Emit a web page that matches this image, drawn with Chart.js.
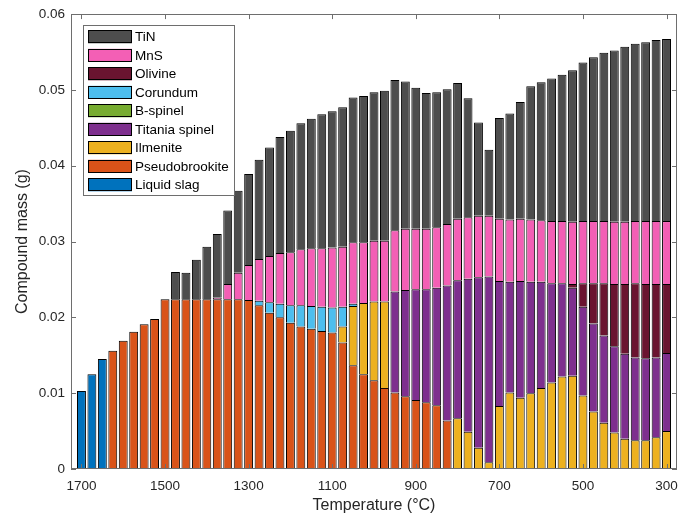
<!DOCTYPE html>
<html lang="en">
<head>
    <meta charset="UTF-8">
    <title>Compound mass vs temperature</title>
    <script src="https://cdn.jsdelivr.net/npm/chart.js"></script>
    <style>
        body { margin: 0; background: #fff; }
        #wrap { width: 691px; height: 515px; }
    </style>
</head>
<body>
    <div id="wrap"><canvas id="chart" width="691" height="515"></canvas></div>
    <script>
        // Temperatures (°C), one bar each, 25 °C apart
        const temps = [1700,1675,1650,1625,1600,1575,1550,1525,1500,
            1475,1450,1425,1400,1375,1350,1325,1300,
            1275,1250,1225,1200,1175,1150,1125,1100,
            1075,1050,1025,1000,975,950,925,900,
            875,850,825,800,775,750,725,700,
            675,650,625,600,575,550,525,500,
            475,450,425,400,375,350,325,300];
        const tickTemps = [1700, 1500, 1300, 1100, 900, 700, 500, 300];

        // Compound mass (g) of each phase
        const liquidSlag = [0.0103,0.0125,0.0145,0,0,0,0,0,0,
            0,0,0,0,0,0,0,0,
            0,0,0,0,0,0,0,0,
            0,0,0,0,0,0,0,0,
            0,0,0,0,0,0,0,0,
            0,0,0,0,0,0,0,0,
            0,0,0,0,0,0,0,0];
        const pseudobrookite = [0,0,0,0.0156,0.0169,0.0181,0.0191,0.0198,0.0224,
            0.0224,0.0224,0.0224,0.0224,0.0224,0.0224,0.0224,0.0223,
            0.0216,0.0206,0.0200,0.0193,0.0188,0.0185,0.0182,0.0180,
            0.0167,0.0137,0.0125,0.0117,0.0107,0.0101,0.0096,0.0091,
            0.0088,0.0084,0.0064,0,0,0,0,0,
            0,0,0,0,0,0,0,0,
            0,0,0,0,0,0,0,0];
        const ilmenite = [0,0,0,0,0,0,0,0,0,
            0,0,0,0,0,0,0,0,
            0,0,0,0,0,0,0,0,
            0.0021,0.0078,0.0094,0.0104,0.0114,0,0,0,
            0,0,0,0.0067,0.0049,0.0028,0.0009,0.0083,
            0.0101,0.0094,0.0100,0.0107,0.0114,0.0122,0.0123,0.0097,
            0.0076,0.0061,0.0048,0.0040,0.0038,0.0038,0.0042,0.0050];
        const titaniaSpinel = [0,0,0,0,0,0,0,0,0,
            0,0,0,0,0,0,0,0,
            0,0,0,0,0,0,0,0,
            0,0,0,0,0,0.0133,0.0140,0.0146,
            0.0149,0.0155,0.0178,0.0182,0.0202,0.0225,0.0245,0.0165,
            0.0146,0.0154,0.0147,0.0140,0.0131,0.0123,0.0116,0.0117,
            0.0116,0.0115,0.0114,0.0112,0.0109,0.0108,0.0105,0.0103];
        const bSpinel = [0,0,0,0,0,0,0,0,0,
            0,0,0,0,0,0,0,0,
            0,0,0,0,0,0,0,0,
            0,0,0,0,0,0,0,0,
            0,0,0,0,0,0,0,0,
            0,0,0,0,0,0,0,0,
            0,0,0,0,0,0,0,0];
        const corundum = [0,0,0,0,0,0,0,0,0,
            0,0,0,0,0,0,0,0,
            0.0006,0.0014,0.0018,0.0023,0.0028,0.0030,0.0032,0.0033,
            0.0026,0.0003,0,0,0,0,0,0,
            0,0,0,0,0,0,0,0,
            0,0,0,0,0,0,0,0,
            0,0,0,0,0,0,0,0];
        const olivine = [0,0,0,0,0,0,0,0,0,
            0,0,0,0,0,0,0,0,
            0,0,0,0,0,0,0,0,
            0,0,0,0,0,0,0,0,
            0,0,0,0,0,0,0,0,
            0,0,0,0,0,0,0.0005,0.0031,
            0.0053,0.0069,0.0082,0.0092,0.0098,0.0098,0.0097,0.0091];
        const mnS = [0,0,0,0,0,0,0,0,0,
            0,0,0,0,0.0002,0.0020,0.0035,0.0046,
            0.0055,0.0061,0.0067,0.0070,0.0074,0.0076,0.0077,0.0079,
            0.0079,0.0081,0.0080,0.0080,0.0080,0.0081,0.0081,0.0080,
            0.0080,0.0080,0.0081,0.0081,0.0081,0.0081,0.0080,0.0082,
            0.0082,0.0082,0.0082,0.0081,0.0082,0.0082,0.0082,0.0082,
            0.0082,0.0082,0.0082,0.0082,0.0082,0.0083,0.0083,0.0083];
        const tiN = [0,0,0,0,0,0,0,0,0,
            0.0036,0.0035,0.0052,0.0069,0.0084,0.0097,0.0108,0.0120,
            0.0131,0.0143,0.0153,0.0160,0.0166,0.0171,0.0177,0.0180,
            0.0184,0.0191,0.0193,0.0196,0.0198,0.0198,0.0194,0.0186,
            0.0179,0.0178,0.0178,0.0179,0.0157,0.0123,0.0087,0.0133,
            0.0140,0.0154,0.0176,0.0182,0.0188,0.0193,0.0200,0.0209,
            0.0216,0.0222,0.0226,0.0231,0.0234,0.0236,0.0239,0.0240];

        const FONT = "'Liberation Sans', Arial, Helvetica, sans-serif";
        const AXIS_GREY = '#6e6e6e';
        const TEXT = '#262626';

        function series(label, data, color) {
            return {
                label: label,
                data: data,
                backgroundColor: color,
                borderColor: '#000',
                borderWidth: 1,
                categoryPercentage: 1,
                barPercentage: 0.85
            };
        }

        // Axes box with inward ticks on all four sides, plus the boxed legend
        const matlabAxes = {
            id: 'matlabAxes',
            afterDraw(chart) {
                const { ctx, chartArea: a, scales: { x, y } } = chart;
                ctx.save();
                ctx.strokeStyle = AXIS_GREY;
                ctx.lineWidth = 1;
                ctx.strokeRect(Math.round(a.left) + 0.5, Math.round(a.top) + 0.5,
                    Math.round(a.right - a.left) - 1, Math.round(a.bottom - a.top) - 1);
                ctx.beginPath();
                x.ticks.forEach(t => {
                    const px = Math.round(x.getPixelForValue(t.value)) + 0.5;
                    ctx.moveTo(px, a.bottom); ctx.lineTo(px, a.bottom - 5);
                    ctx.moveTo(px, a.top); ctx.lineTo(px, a.top + 5);
                });
                y.ticks.forEach(t => {
                    const py = Math.round(y.getPixelForValue(t.value)) + 0.5;
                    ctx.moveTo(a.left, py); ctx.lineTo(a.left + 5, py);
                    ctx.moveTo(a.right, py); ctx.lineTo(a.right - 5, py);
                });
                ctx.stroke();

                // legend, top-left inside the axes, last series first
                const lx = a.left + 12, ly = a.top + 11, lw = 151, lh = 170;
                ctx.fillStyle = '#fff';
                ctx.fillRect(lx, ly, lw, lh);
                ctx.strokeStyle = AXIS_GREY;
                ctx.strokeRect(Math.round(lx) + 0.5, Math.round(ly) + 0.5, lw, lh);
                ctx.font = '13.5px ' + FONT;
                ctx.textBaseline = 'middle';
                ctx.textAlign = 'left';
                const sets = chart.data.datasets.slice().reverse();
                sets.forEach((ds, i) => {
                    const cy = ly + 11.7 + i * 18.5;
                    ctx.fillStyle = ds.backgroundColor;
                    ctx.fillRect(lx + 5, cy - 6.5, 44, 13);
                    ctx.strokeStyle = '#000';
                    ctx.strokeRect(Math.round(lx + 5) + 0.5, Math.round(cy - 6.5) + 0.5, 43, 12);
                    ctx.fillStyle = '#000';
                    ctx.fillText(ds.label, lx + 52, cy + 0.5);
                });
                ctx.restore();
            }
        };

        new Chart(document.getElementById('chart'), {
            type: 'bar',
            data: {
                labels: temps,
                datasets: [
                    series('Liquid slag', liquidSlag, '#0072bd'),
                    series('Pseudobrookite', pseudobrookite, '#d95319'),
                    series('Ilmenite', ilmenite, '#edb120'),
                    series('Titania spinel', titaniaSpinel, '#7e2f8e'),
                    series('B-spinel', bSpinel, '#77ac30'),
                    series('Corundum', corundum, '#4dbeee'),
                    series('Olivine', olivine, '#6a1430'),
                    series('MnS', mnS, '#f35fb5'),
                    series('TiN', tiN, '#4d4d4d')
                ]
            },
            options: {
                responsive: false,
                animation: false,
                layout: { padding: { left: 0, right: 14, top: 14, bottom: 0 } },
                plugins: {
                    legend: { display: false },
                    tooltip: { enabled: false }
                },
                scales: {
                    x: {
                        type: 'linear',
                        reverse: true,
                        stacked: true,
                        offset: false,
                        min: 275,
                        max: 1725,
                        bounds: 'data',
                        grid: { display: false, drawTicks: false, offset: false },
                        border: { display: false },
                        afterBuildTicks(scale) {
                            scale.ticks = tickTemps.map(v => ({ value: v }));
                        },
                        afterFit(scale) { scale.height = 46; },
                        ticks: {
                            padding: 9,
                            color: TEXT,
                            font: { family: FONT, size: 13.5 },
                            maxRotation: 0,
                            callback: v => String(v)
                        },
                        title: {
                            display: true,
                            text: 'Temperature (°C)',
                            color: TEXT,
                            font: { family: FONT, size: 16 },
                            padding: { top: 6, bottom: 0 }
                        }
                    },
                    y: {
                        stacked: true,
                        min: 0,
                        max: 0.06,
                        grid: { display: false, drawTicks: false },
                        border: { display: false },
                        afterFit(scale) { scale.width = 71; },
                        ticks: {
                            stepSize: 0.01,
                            padding: 6,
                            color: TEXT,
                            font: { family: FONT, size: 13.5 },
                            callback: v => (v === 0 ? '0' : v.toFixed(2))
                        },
                        title: {
                            display: true,
                            text: 'Compound mass (g)',
                            color: TEXT,
                            font: { family: FONT, size: 16 },
                            padding: { top: 13, bottom: 0 }
                        }
                    }
                }
            },
            plugins: [matlabAxes]
        });
    </script>
</body>
</html>
